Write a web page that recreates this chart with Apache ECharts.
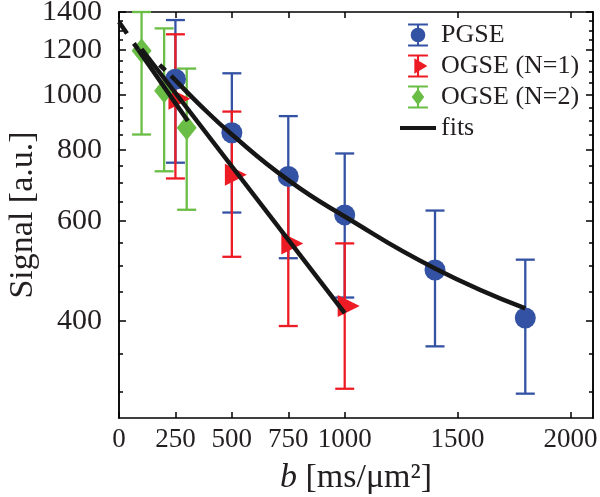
<!DOCTYPE html>
<html><head><meta charset="utf-8">
<script src="https://cdn.jsdelivr.net/npm/echarts@6/dist/echarts.min.js"></script>
<style>html,body{margin:0;padding:0;background:#fff}#c{width:600px;height:497px}</style>
</head><body><div id="c"></div>
<script>
// ---------- data ----------
const xTicks = [0, 250, 500, 750, 1000, 1500, 2000];
const yLabels = [400, 600, 800, 1000, 1200, 1400];
const yMinor = [300, 350, 400, 450, 500, 550, 600, 650, 700, 750, 800, 850, 900, 950, 1000, 1050, 1100, 1150, 1200, 1250, 1300, 1350, 1400];

const bPGSE = [250, 500, 750, 1000, 1400, 1800];
const sPGSE = [1066, 858, 719, 615, 492, 405];
const loPGSE = [760, 621, 516, 440, 361, 298];
const hiPGSE = [1355, 1092, 918, 789, 626, 513];

const bOG1 = [250, 500, 750, 1000];
const sOG1 = [985, 724, 548, 425];
const loOG1 = [713, 519, 392, 304];
const hiOG1 = [1279, 935, 710, 548];

const bOG2 = [100, 200, 300];
const sOG2 = [1196, 1017, 876];
const loOG2 = [852, 734, 628];
const hiOG2 = [1400, 1310, 1113];

const fitPGSE_b = [250, 350, 500, 750, 1000, 1400, 1800];
const fitPGSE_v = [1062, 968, 852, 708, 611, 495, 421];
const fitPGSEdash_b = [180, 250];
const fitPGSEdash_v = [1130, 1062];

const fitOG1_b = [100, 1000];
const fitOG1_v = [1205, 413];

const fitOG2_b = [85, 305];
const fitOG2_v = [1202, 900];
const fitOG2dash_b = [0, 85];
const fitOG2dash_v = [1344, 1202];

const yTitle = 'Signal [a.u.]';

// ---------- styling ----------
const FONT = '"Liberation Serif", "Times New Roman", serif';
const TXT = '#231f20';
const BLUE = '#3352a3', RED = '#ed1c24', GREEN = '#6abd45', BLACK = '#161616';
const L = v => Math.log10(v);
const yMin = L(270), yMax = L(1400);

function pairs(bs, vs) { return bs.map((b, i) => [b, L(vs[i])]); }
function errData(bs, lo, hi) { return bs.map((b, i) => [b, L(lo[i]), L(hi[i])]); }

function errRender(color) {
  return function (params, api) {
    const x = api.value(0);
    const pLo = api.coord([x, api.value(1)]);
    const pHi = api.coord([x, api.value(2)]);
    const hw = 9.5;
    const style = { stroke: color, lineWidth: 2.3 };
    return {
      type: 'group', children: [
        { type: 'line', shape: { x1: pLo[0], y1: pLo[1], x2: pHi[0], y2: pHi[1] }, style: style },
        { type: 'line', shape: { x1: pLo[0] - hw, y1: pLo[1], x2: pLo[0] + hw, y2: pLo[1] }, style: style },
        { type: 'line', shape: { x1: pHi[0] - hw, y1: pHi[1], x2: pHi[0] + hw, y2: pHi[1] }, style: style }
      ]
    };
  };
}

function xAx(pos, showLabel) {
  const a = {
    type: 'value', position: pos, min: 0, max: 2100,
    axisLine: { show: true, onZero: false, lineStyle: { color: '#000', width: 1.5 } },
    axisTick: { show: true, inside: true, length: 6, customValues: xTicks, lineStyle: { color: '#000', width: 1.5 } },
    axisLabel: { show: showLabel, customValues: xTicks, fontFamily: FONT, fontSize: 27, color: TXT, margin: 8,
      hideOverlap: false, formatter: v => String(v) },
    splitLine: { show: false }
  };
  if (showLabel) {
    a.name = '{i|b} [ms/\u03bcm\u00b2]';
    a.nameLocation = 'middle';
    a.nameGap = 43;
    a.nameTextStyle = {
      fontFamily: FONT, fontSize: 34, color: TXT,
      rich: { i: { fontFamily: FONT, fontSize: 34, fontStyle: 'italic', color: TXT } }
    };
  }
  return a;
}
function yAx(pos, ticks, len) {
  return {
    type: 'value', position: pos, min: yMin, max: yMax,
    axisLine: { show: true, onZero: false, lineStyle: { color: '#000', width: 1.5 } },
    axisTick: { show: true, inside: true, length: len, customValues: ticks.map(L), lineStyle: { color: '#000', width: 1.5 } },
    axisLabel: { show: false },
    splitLine: { show: false }
  };
}

const iconBar = 'M0,0H19V2H0Z M8.5,2H10.5V20H8.5Z M0,20H19V22H0Z ';
const iconPGSE = 'path://' + iconBar + 'M2.5,11A7,7 0 1 1 16.5,11A7,7 0 1 1 2.5,11Z';
const iconOG1 = 'path://' + iconBar + 'M6,3.5L18.5,11L6,18.5Z';
const iconOG2 = 'path://' + iconBar + 'M9.5,3L15.5,11L9.5,19L3.5,11Z';
const iconFit = 'path://M0,0H35V4H0Z';

const chart = echarts.init(document.getElementById('c'), null, { renderer: 'canvas' });
chart.setOption({
  animation: false,
  backgroundColor: '#fff',
  grid: { left: 119, right: 7, top: 12, bottom: 79, containLabel: false, outerBoundsMode: 'none' },
  xAxis: [xAx('bottom', true), xAx('top', false)],
  yAxis: [yAx('left', yLabels, 7), yAx('left', yMinor, 4),
          yAx('right', yLabels, 7), yAx('right', yMinor, 4)],
  legend: {
    orient: 'vertical', left: 395, top: 17, itemGap: 5, itemWidth: 36, itemHeight: 23,
    textStyle: { fontFamily: FONT, fontSize: 26, color: TXT },
    data: [
      { name: 'PGSE', icon: iconPGSE, itemStyle: { color: BLUE } },
      { name: 'OGSE (N=1)', icon: iconOG1, itemStyle: { color: RED } },
      { name: 'OGSE (N=2)', icon: iconOG2, itemStyle: { color: GREEN } },
      { name: 'fits', icon: iconFit, itemStyle: { color: BLACK } }
    ],
    selectedMode: false
  },
  series: [
    { name: 'PGSE', type: 'custom', renderItem: errRender(BLUE), data: errData(bPGSE, loPGSE, hiPGSE),
      encode: { x: 0, y: [1, 2] }, itemStyle: { color: BLUE } },
    { name: 'PGSE', type: 'scatter', symbol: 'circle', symbolSize: 21, data: pairs(bPGSE, sPGSE),
      itemStyle: { color: BLUE, opacity: 1 } },
    { name: 'OGSE (N=1)', type: 'custom', renderItem: errRender(RED), data: errData(bOG1, loOG1, hiOG1),
      encode: { x: 0, y: [1, 2] }, itemStyle: { color: RED } },
    { name: 'OGSE (N=1)', type: 'scatter', symbol: 'triangle', symbolSize: [22, 22], symbolRotate: -90,
      symbolOffset: [4, 0], data: pairs(bOG1, sOG1), itemStyle: { color: RED, opacity: 1 } },
    { name: 'OGSE (N=2)', type: 'custom', renderItem: errRender(GREEN), data: errData(bOG2, loOG2, hiOG2),
      encode: { x: 0, y: [1, 2] }, itemStyle: { color: GREEN } },
    { name: 'OGSE (N=2)', type: 'scatter', symbol: 'diamond', symbolSize: [20, 25], data: pairs(bOG2, sOG2),
      itemStyle: { color: GREEN, opacity: 1 } },
    { name: 'fits', type: 'line', showSymbol: false, smooth: true, data: pairs(fitPGSE_b, fitPGSE_v),
      lineStyle: { color: BLACK, width: 4.5 }, itemStyle: { color: BLACK } },
    { name: 'fits', type: 'line', showSymbol: false, data: pairs(fitPGSEdash_b, fitPGSEdash_v),
      lineStyle: { color: BLACK, width: 4.5, type: [8, 8] } },
    { name: 'fits', type: 'line', showSymbol: false, data: pairs(fitOG1_b, fitOG1_v),
      lineStyle: { color: BLACK, width: 4.5 } },
    { name: 'fits', type: 'line', showSymbol: false, data: pairs(fitOG2_b, fitOG2_v),
      lineStyle: { color: BLACK, width: 4.5 } },
    { name: 'fits', type: 'line', showSymbol: false, data: pairs(fitOG2dash_b, fitOG2dash_v),
      lineStyle: { color: BLACK, width: 4.5, type: [14, 12] } }
  ]
});

// y tick labels placed through the chart's own y scale
const yLabelGraphics = yLabels.map(function (v, i) {
  const p = chart.convertToPixel({ gridIndex: 0 }, [0, L(v)]);
  return { type: 'text', id: 'ylab' + i, x: p[0] - 17, y: p[1],
    style: { text: String(v), fontSize: 30, fontFamily: FONT, fill: TXT, align: 'right', verticalAlign: 'middle' } };
});
const plotTop = chart.convertToPixel({ gridIndex: 0 }, [0, yMax])[1];
const plotBottom = chart.convertToPixel({ gridIndex: 0 }, [0, yMin])[1];
chart.setOption({
  graphic: yLabelGraphics.concat([
    { type: 'text', id: 'ytitle', x: 23, y: (plotTop + plotBottom) / 2, rotation: Math.PI / 2,
      style: { text: yTitle, fontSize: 34, fontFamily: FONT, fill: TXT, align: 'center', verticalAlign: 'middle' } }
  ])
});
</script>
</body></html>
